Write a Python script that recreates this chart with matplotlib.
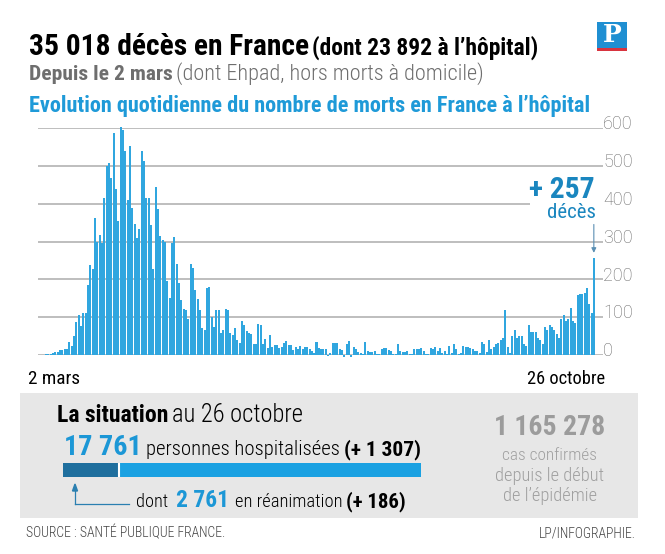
import numpy as np
import pandas as pd
import matplotlib
matplotlib.use("Agg")
import matplotlib.pyplot as plt
from matplotlib import font_manager as fm
from matplotlib.patches import Rectangle

# daily hospital deaths, 2 March -> 26 October 2020
jours = pd.date_range("2020-03-02", "2020-10-26", freq="D")
deces = [1, 0, 1, 2, 2, 3, 5, 7, 9, 14, 12, 17, 15,
         35, 24, 50, 87, 105, 77, 110, 110, 185, 238,
         228, 362, 299, 317, 296, 415, 499, 507, 468, 587,
         440, 355, 602, 595, 539, 411, 553, 388, 345, 308,
         333, 539, 512, 416, 416, 343, 226, 443, 386, 314,
         305, 298, 196, 151, 296, 311, 241, 191, 146, 122,
         120, 96, 241, 230, 173, 149, 120, 72, 65, 178,
         180, 101, 73, 120, 120, 59, 65, 122, 120, 59,
         54, 71, 40, 32, 89, 80, 63, 59, 55,
         28, 28, 82, 78, 29, 43, 18, 52,
         22, 27, 26, 18, 21, 33, 37, 27, 26,
         13, 21, 15, 24, 16, 22, 22, 17,
         10, 5, 34, 18, 17, 15, 17, -3, 5, 33,
         33, 33, 15, 12, -4, 30, 37, -4, 20, 15,
         8, 5, 3, 35, 10, 8, 8, 10, 3, 2,
         15, 18, 18, 12, 10, 3, 2, 30, 10, 8,
         8, 10, 3, 2, 15, 15, 15, 18, 10, 3,
         2, 18, 15, 20, 10, 18, 5, 10, 3, 25,
         5, 30, 15, 3, 5, 25, 20, 22, 18, 15,
         10, 10, 5, 35, 30, 8, 40,
         15, 20, 30, 32, 40, 45, 120, 20, 5, 50,
         65, 45, 50, 50, 30, 25, 80, 60, 62, 60,
         45, 40, 30, 75, 65, 80, 75, 65, 55, 45,
         95, 105, 90, 95, 125, 90, 85, 158, 160, 162,
         165, 178, 135, 112, 257]
assert len(deces) == len(jours)

yticks = [0, 100, 200, 300, 400, 500, 600]
hospitalises = 17761
reanimation = 2761


def pick(names, **kw):
    for n in names:
        try:
            fm.findfont(fm.FontProperties(family=n, **kw), fallback_to_default=False)
            return n
        except Exception:
            pass
    return "DejaVu Sans"


COND = pick(["Roboto Condensed", "Liberation Sans Narrow", "Noto Sans Condensed",
             "Open Sans Condensed", "Roboto"])
REG = pick(["Roboto", "Liberation Sans"])

W, H = 665, 554
fig = plt.figure(figsize=(W / 100, H / 100), dpi=100)
fig.patch.set_facecolor("white")


def fx(x):
    return x / W


def fy(y):
    return 1 - y / H


renderer = fig.canvas.get_renderer()


def put(x, y, s, width=None, size=12, ha="left", weight="normal", color="black",
        family=None):
    t = fig.text(fx(x), fy(y), s, ha=ha, va="baseline", fontsize=size,
                 fontweight=weight, color=color, family=family or COND)
    if width:
        for _ in range(2):
            w = t.get_window_extent(renderer).width
            t.set_fontsize(t.get_fontsize() * width / w)
    return t


blue = "#30a6df"
grey_txt = "#6e6e6e"

# header
put(29, 55, "35 018 décès en France", 280, weight="bold")
put(312, 55, "(dont 23 892 à l’hôpital)", 226, weight="bold")
put(29, 80, "Depuis le 2 mars", 143, weight="bold", color=grey_txt)
put(176, 80, "(dont Ehpad, hors morts à domicile)", 308, weight="light", color=grey_txt)
put(29, 112, "Evolution quotidienne du nombre de morts en France à l’hôpital", 563,
    weight="bold", color="#1f9ad8")

# logo
fig.patches.append(Rectangle((fx(597), fy(48)), 30 / W, 26 / H, transform=fig.transFigure,
                             facecolor="#1f8fd2", edgecolor="none"))
fig.patches.append(Rectangle((fx(597), fy(51)), 30 / W, 3 / H, transform=fig.transFigure,
                             facecolor="#d8343f", edgecolor="none"))
fig.text(fx(612), fy(35), "P", ha="center", va="center", fontsize=18, fontweight="bold",
         color="white", family="DejaVu Serif")

# chart
n = len(deces)
px_bar = (595 - 38) / n
xmax = -0.5 + (603 - 38) / px_bar
ax = fig.add_axes([fx(38), fy(355), (603 - 38) / W, (355 - 128) / H])
ax.set_xlim(-0.5, xmax)
ax.set_ylim(0, 600)
ax.axis("off")
x = np.arange(n)
for v in yticks:
    end = xmax if v != 400 else -0.5 + (530 - 38) / px_bar
    ax.hlines(v, -0.5, end, color="#b9b9b9", lw=1.3, zorder=1)
    ax.text(xmax, v + 10, str(v), ha="left", va="center", fontsize=13,
            color="#6a6a6a", family=REG, fontweight="light")
ax.bar(x, deces, width=0.86, color=blue, zorder=2, clip_on=False)

ax.annotate("", xy=(n - 1, 270), xytext=(n - 1, 345),
            arrowprops=dict(arrowstyle="-|>", lw=0.8, color="#5b8fb3",
                            mutation_scale=7, shrinkA=0, shrinkB=0))
put(595, 198, "+ 257", 66, ha="right", weight="bold", color="#1a86bf")
put(596, 218, "décès", 49, ha="right", color="#1a86bf")

put(28, 384, "2 mars", 52)
put(605, 384, "26 octobre", 78, ha="right")

# bottom panel
fig.patches.append(Rectangle((fx(20), fy(518)), 618 / W, 125 / H, transform=fig.transFigure,
                             facecolor="#e7e7e7", edgecolor="none", zorder=-1))
put(57, 422, "La situation", 111, weight="bold")
put(172, 422, "au 26 octobre", 131, weight="light")
put(64, 455, "17 761", 78, weight="bold", color="#1c97d6")
put(146, 455, "personnes hospitalisées", 193, weight="light")
put(344, 455, "(+ 1 307)", 77, weight="bold")

bx = fig.add_axes([fx(63), fy(477), (421 - 63) / W, 14 / H])
bx.set_xlim(0, hospitalises)
bx.set_ylim(0, 1)
bx.axis("off")
bx.barh(0.5, hospitalises, height=1, left=0, color="#1aa1e2", edgecolor="none")
bx.barh(0.5, reanimation, height=1, left=0, color="#1f6f9e", edgecolor="none")
bx.axvline(reanimation, color="white", lw=1.5)

fig.add_artist(plt.Line2D([fx(75), fx(129)], [fy(504), fy(504)], color="#2a7fb0", lw=0.9))
fig.add_artist(plt.Line2D([fx(75), fx(75)], [fy(504), fy(490)], color="#2a7fb0", lw=0.9))
fig.patches.append(plt.Polygon([[fx(72.5), fy(491)], [fx(77.5), fy(491)], [fx(75), fy(484)]],
                               closed=True, transform=fig.transFigure, color="#2a7fb0"))

put(136, 507, "dont", 32, weight="light")
put(176, 507, "2 761", 53, weight="bold", color="#1c97d6")
put(235, 507, "en réanimation", 107, weight="light")
put(346, 507, "(+ 186)", 60, weight="bold")

g = "#9c9c9c"
put(550, 435, "1 165 278", 111, ha="center", weight="bold", color=g)
put(550, 460, "cas confirmés", 95, ha="center", weight="light", color="#a0a0a0")
put(550, 481, "depuis le début", 109, ha="center", weight="light", color="#a0a0a0")
put(550, 501, "de l’épidémie", 95, ha="center", weight="light", color="#a0a0a0")

put(26, 537, "SOURCE : SANTÉ PUBLIQUE FRANCE.", 199, weight="light", color="#444444")
put(636, 537, "LP/INFOGRAPHIE.", 97, ha="right", weight="light", color="#444444")

fig.savefig("out.png", dpi=100, facecolor="white")
